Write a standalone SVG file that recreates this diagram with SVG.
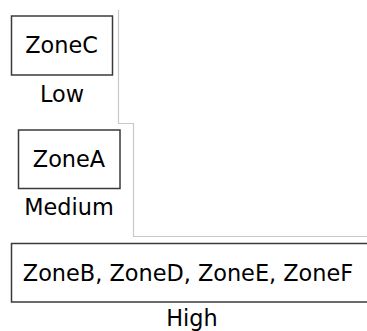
<svg xmlns="http://www.w3.org/2000/svg" width="367" height="331" viewBox="0 0 367 331">
<style>
.box{fill:#ffffff;stroke:#3a3a3a;stroke-width:1.5}
.t{font-family:"DejaVu Sans",sans-serif;font-size:22.4px;fill:#000;text-anchor:middle}
.sep{fill:none;stroke:#c8c8c8;stroke-width:1.2}
</style>
<rect width="367" height="331" fill="#ffffff"/>
<g id="connectors">
<path class="sep" d="M118.5,10 V123.5 H133.5 V236.5 H367"/>
</g>
<g id="zoneC">
<rect class="box" x="11.5" y="16" width="101" height="59"/>
<text class="t" x="61.5" y="53">ZoneC</text>
<text class="t" x="62" y="102">Low</text>
</g>
<g id="zoneA">
<rect class="box" x="18.5" y="130" width="101.5" height="58.5"/>
<text class="t" x="69" y="167">ZoneA</text>
<text class="t" x="69" y="215">Medium</text>
</g>
<g id="zoneBDEF">
<rect class="box" x="11.5" y="243.5" width="362" height="58.5"/>
<text class="t" x="188" y="281">ZoneB, ZoneD, ZoneE, ZoneF</text>
<text class="t" x="192" y="326">High</text>
</g>
</svg>
